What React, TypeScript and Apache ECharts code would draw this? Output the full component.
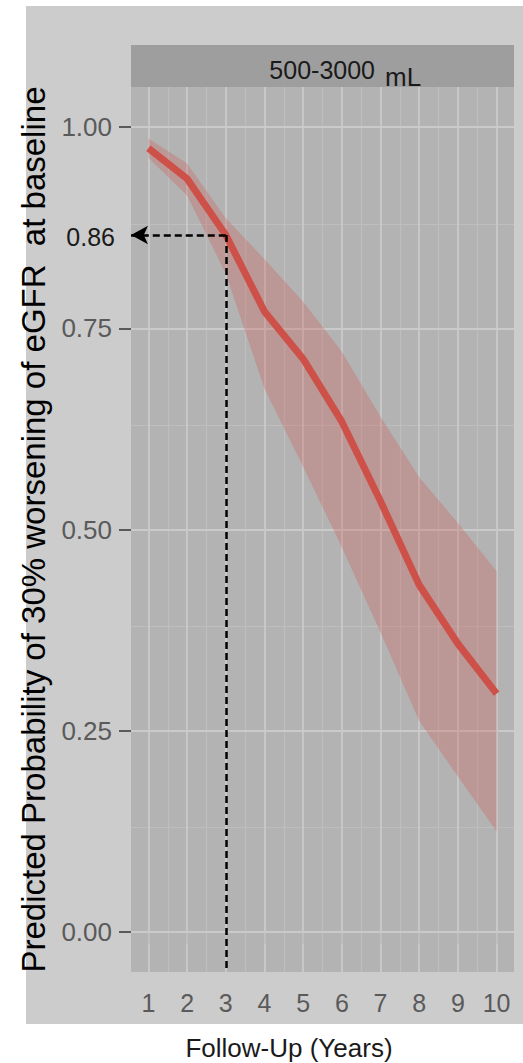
import React, { useEffect, useRef } from "react";
import * as echarts from "echarts";

const years = [1, 2, 3, 4, 5, 6, 7, 8, 9, 10];
const fitProb = [0.974, 0.936, 0.866, 0.771, 0.712, 0.634, 0.535, 0.431, 0.358, 0.296];
const upperProb = [0.986, 0.955, 0.887, 0.836, 0.783, 0.721, 0.64, 0.565, 0.508, 0.448];
const lowerProb = [0.962, 0.915, 0.818, 0.675, 0.578, 0.478, 0.372, 0.262, 0.193, 0.125];
const yTicks = [0, 0.25, 0.5, 0.75, 1];
const yMinorTicks = [0.125, 0.375, 0.625, 0.875];
const xMinorTicks = [1.5, 2.5, 3.5, 4.5, 5.5, 6.5, 7.5, 8.5, 9.5];
const annotYear = 3;
const annotValue = 0.866;
const annotLabel = "0.86";
const stripTitle = "500-3000";
const stripUnit = "mL";
const xTitle = "Follow-Up (Years)";
const yTitle = "Predicted Probability of 30% worsening of eGFR  at baseline";

const X_MIN = 0.55;
const X_MAX = 10.45;
const Y_MIN = -0.05;
const Y_MAX = 1.05;

const FONT = "'Liberation Sans', Arial, sans-serif";

export default function App() {
  const ref = useRef<HTMLDivElement>(null);
  useEffect(() => {
    document.body.style.margin = "0";
    const chart = echarts.init(ref.current!, null, { renderer: "svg" });
    const option: any = {
      animation: false,
      backgroundColor: "#FFFFFF",
      grid: {
        left: 131,
        top: 87,
        width: 383,
        height: 885,
        show: true,
        backgroundColor: "#B3B3B3",
        borderWidth: 0,
      },
      xAxis: {
        type: "value",
        min: X_MIN,
        max: X_MAX,
        axisLine: { show: false },
        splitLine: { show: false },
        axisTick: { show: true, length: 12, customValues: years, lineStyle: { color: "#5A5A5A", width: 2 } },
        axisLabel: {
          customValues: years,
          margin: 18,
          fontSize: 25,
          fontFamily: FONT,
          color: "#5A5A5A",
          formatter: (v: number) => String(v),
        },
      },
      yAxis: {
        type: "value",
        min: Y_MIN,
        max: Y_MAX,
        axisLine: { show: false },
        splitLine: { show: false },
        axisTick: { show: true, length: 12, customValues: yTicks, lineStyle: { color: "#5A5A5A", width: 2 } },
        axisLabel: {
          customValues: yTicks,
          margin: 19,
          fontSize: 26,
          fontFamily: FONT,
          color: "#5A5A5A",
          formatter: (v: number) => v.toFixed(2),
        },
        name: yTitle,
        nameLocation: "middle",
        nameRotate: 90,
        nameGap: 68,
        nameTextStyle: { fontSize: 33, fontFamily: FONT, color: "#000000" },
      },
      graphic: [
        {
          type: "rect",
          z: -10,
          shape: { x: 26, y: 6, width: 497, height: 1018 },
          style: { fill: "#CCCCCC" },
          silent: true,
        },
        {
          type: "rect",
          shape: { x: 131, y: 45, width: 383, height: 42 },
          style: { fill: "#9E9E9E" },
          silent: true,
        },
        {
          type: "text",
          x: 375,
          y: 70,
          style: {
            text: stripTitle,
            fontSize: 25,
            fontFamily: FONT,
            fill: "#1A1A1A",
            align: "right",
            verticalAlign: "middle",
          },
        },
        {
          type: "text",
          x: 385,
          y: 77,
          style: {
            text: stripUnit,
            fontSize: 26,
            fontFamily: FONT,
            fill: "#1A1A1A",
            align: "left",
            verticalAlign: "middle",
          },
        },
        {
          type: "text",
          x: 115,
          y: 237,
          style: {
            text: annotLabel,
            fontSize: 25,
            fontFamily: FONT,
            fill: "#1A1A1A",
            align: "right",
            verticalAlign: "middle",
          },
        },
        {
          type: "text",
          x: 289,
          y: 1048,
          style: {
            text: xTitle,
            fontSize: 26,
            fontFamily: FONT,
            fill: "#1A1A1A",
            align: "center",
            verticalAlign: "middle",
          },
        },
      ],
      series: [
        {
          name: "grid-helper",
          type: "line",
          z: 1,
          data: years.map((x, i) => [x, fitProb[i]]),
          showSymbol: false,
          lineStyle: { opacity: 0, width: 0 },
          silent: true,
          markLine: {
            z: 1,
            silent: true,
            symbol: "none",
            label: { show: false },
            animation: false,
            data: [
              ...xMinorTicks.map((v) => ({ xAxis: v, lineStyle: { color: "#BEBEBE", width: 1.2, type: "solid" } })),
              ...yMinorTicks.map((v) => ({ yAxis: v, lineStyle: { color: "#BEBEBE", width: 1.2, type: "solid" } })),
              ...years.map((v) => ({ xAxis: v, lineStyle: { color: "#CACACA", width: 1.8, type: "solid" } })),
              ...yTicks.map((v) => ({ yAxis: v, lineStyle: { color: "#CACACA", width: 1.8, type: "solid" } })),
            ],
          },
        },
        {
          name: "ribbon",
          type: "custom",
          z: 2,
          silent: true,
          data: years.map((x, i) => [x, upperProb[i], lowerProb[i]]),
          encode: { x: 0, y: [1, 2] },
          renderItem: (params: any, api: any) => {
            if (params.dataIndex !== 0) return null;
            const pts: number[][] = [];
            for (let i = 0; i < years.length; i++) pts.push(api.coord([years[i], upperProb[i]]));
            for (let i = years.length - 1; i >= 0; i--) pts.push(api.coord([years[i], lowerProb[i]]));
            return {
              type: "polygon",
              shape: { points: pts },
              style: { fill: "rgba(210, 80, 72, 0.28)", stroke: "none" },
            };
          },
        },
        {
          name: "fit",
          type: "line",
          z: 3,
          data: years.map((x, i) => [x, fitProb[i]]),
          showSymbol: false,
          lineStyle: { color: "#CD5049", width: 7, cap: "butt", join: "round" },
          silent: true,
          markLine: {
            z: 4,
            silent: true,
            animation: false,
            label: { show: false },
            lineStyle: { color: "#000000", width: 2.5, type: [7, 4] },
            data: [
              [
                { coord: [annotYear, annotValue], symbol: "none" },
                { coord: [X_MIN, annotValue], symbol: "arrow", symbolSize: [14, 17] },
              ],
              [
                { coord: [annotYear, annotValue], symbol: "none" },
                { coord: [annotYear, Y_MIN], symbol: "none" },
              ],
            ],
          },
        },
      ],
    };
    chart.setOption(option);
    return () => chart.dispose();
  }, []);
  return <div ref={ref} style={{ width: 523, height: 1063 }} />;
}
